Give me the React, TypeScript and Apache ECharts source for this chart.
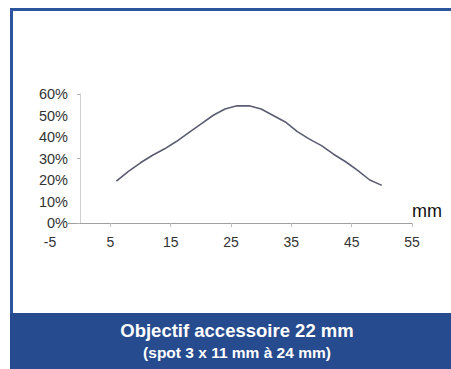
import React, { useEffect, useRef } from "react";
import * as echarts from "echarts";

const positionsMm = [6, 8, 10, 12, 14, 16, 18, 20, 22, 24, 26, 28, 30, 32, 34, 36, 38, 40, 42, 44, 46, 48, 50];
const intensityPct = [19.5, 24, 28, 31.5, 34.5, 38, 42, 46, 50, 53, 54.5, 54.5, 53, 50, 47, 42.5, 39, 36, 32, 28.5, 24.5, 20, 17.5];
const yTickValues = [0, 30, 60];
const xUnitLabel = "mm";
const titleLine1 = "Objectif accessoire 22 mm";
const titleLine2 = "(spot 3 x 11 mm à 24 mm)";

export default function App() {
  const ref = useRef<HTMLDivElement>(null);
  useEffect(() => {
    if (!ref.current) return;
    const chart = echarts.init(ref.current, null, { renderer: "svg" });
    const font = "Liberation Sans, Arial, sans-serif";
    chart.setOption({
      animation: false,
      backgroundColor: "#ffffff",
      grid: { left: 50, right: 39, top: 94, bottom: 146 },
      xAxis: {
        type: "value",
        min: -5,
        max: 55,
        interval: 10,
        splitLine: { show: false },
        axisLine: { show: true, onZero: true, lineStyle: { color: "#a0a0a0", width: 1 } },
        axisTick: { show: true, length: 4, lineStyle: { color: "#c0c0c0" } },
        axisLabel: { color: "#333", fontSize: 14, fontFamily: font, margin: 12 },
      },
      yAxis: {
        type: "value",
        min: 0,
        max: 60,
        interval: 10,
        offset: -30,
        splitLine: { show: false },
        axisLine: { show: true, onZero: false, lineStyle: { color: "#d0d0d0", width: 1 } },
        axisTick: { show: true, length: 3, customValues: yTickValues, lineStyle: { color: "#b0b0b0" } },
        axisLabel: {
          color: "#333",
          fontSize: 14.5,
          fontFamily: font,
          margin: 12,
          formatter: "{value}%",
          backgroundColor: "#ffffff",
          padding: [0, 0, 0, 0],
        },
      },
      series: [
        {
          type: "line",
          data: positionsMm.map((x, i) => [x, intensityPct[i]]),
          showSymbol: false,
          symbol: "none",
          lineStyle: { color: "#5a5d72", width: 1.6 },
          silent: true,
        },
      ],
      graphic: [
        { type: "rect", shape: { x: 10, y: 8, width: 441, height: 3 }, style: { fill: "#2c55a0" } },
        { type: "rect", shape: { x: 10, y: 8, width: 3, height: 305 }, style: { fill: "#2c55a0" } },
        { type: "rect", shape: { x: 10, y: 313, width: 441, height: 56 }, style: { fill: "#264b8e" } },
        {
          type: "text",
          x: 412,
          y: 211,
          style: { text: xUnitLabel, fill: "#111", font: `18px ${font}`, textAlign: "left", textVerticalAlign: "middle" },
        },
        {
          type: "text",
          x: 237,
          y: 330,
          style: { text: titleLine1, fill: "#ffffff", font: `bold 18.5px ${font}`, textAlign: "center", textVerticalAlign: "middle" },
        },
        {
          type: "text",
          x: 237,
          y: 352,
          style: { text: titleLine2, fill: "#ffffff", font: `bold 15.5px ${font}`, textAlign: "center", textVerticalAlign: "middle" },
        },
      ],
    });
    return () => chart.dispose();
  }, []);
  return <div ref={ref} style={{ position: "fixed", left: 0, top: 0, width: 451, height: 369 }} />;
}
